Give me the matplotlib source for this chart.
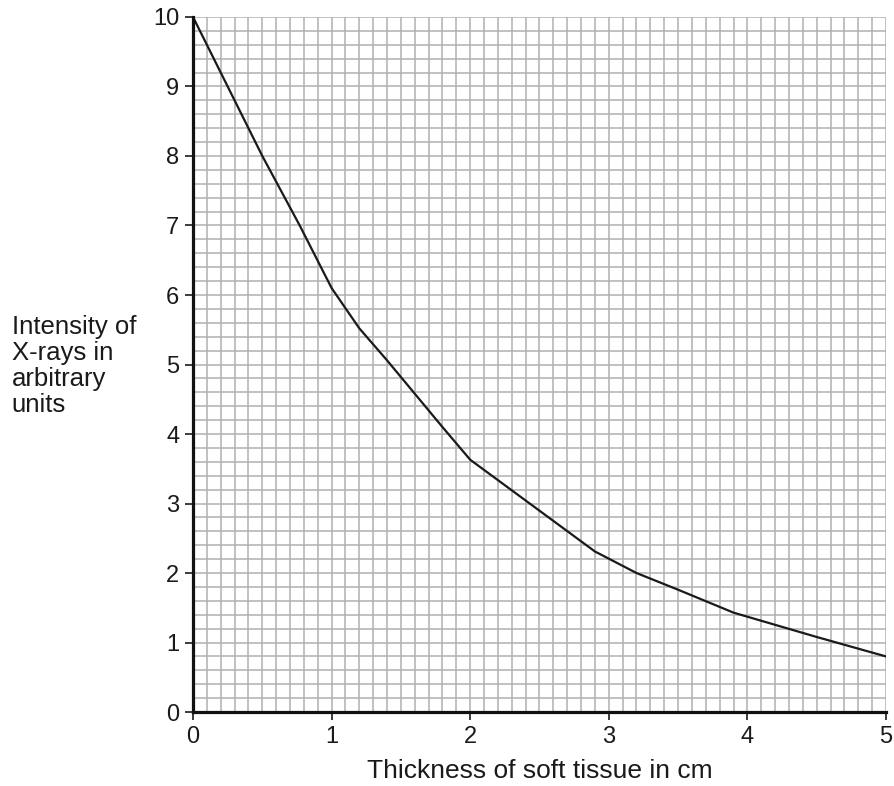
import matplotlib.pyplot as plt
import numpy as np

plt.rcParams['font.family'] = ['Liberation Sans', 'DejaVu Sans']

# values
thickness = [0, 0.25, 0.5, 0.77, 1.0, 1.2, 1.4, 1.6, 1.8, 2.0, 2.3, 2.6, 2.9, 3.2, 3.5, 3.9, 4.5, 5.0]
intensity = [10, 9.0, 8.0, 7.0, 6.1, 5.52, 5.06, 4.58, 4.10, 3.63, 3.19, 2.75, 2.31, 2.0, 1.76, 1.43, 1.08, 0.8]

x_ticks = [0, 1, 2, 3, 4, 5]
y_ticks = [0, 1, 2, 3, 4, 5, 6, 7, 8, 9, 10]

fig = plt.figure(figsize=(8.94, 7.86), dpi=100)
ax = fig.add_axes([0.2159, 0.0941, 0.7751, 0.8843])

ax.set_xlim(0, 5)
ax.set_ylim(0, 10)

# graph paper grid
for gx in np.arange(0, 5.001, 0.1):
    ax.axvline(gx, color='#b0b0b0', lw=1.1, zorder=1)
for gy in np.arange(0, 10.001, 0.2):
    ax.axhline(gy, color='#b0b0b0', lw=1.1, zorder=1)

ax.plot(thickness, intensity, color='#1a1a1a', lw=1.6, zorder=3)

ax.set_xticks(x_ticks)
ax.set_yticks(y_ticks)
ax.tick_params(axis='both', labelsize=17, colors='#1a1a1a', width=1.2, length=6, direction='out')
ax.tick_params(axis='x', pad=4)
ax.tick_params(axis='y', pad=4)

for s in ['top', 'right']:
    ax.spines[s].set_visible(False)
for s in ['left', 'bottom']:
    ax.spines[s].set_linewidth(2.3)
    ax.spines[s].set_color('#111111')
    ax.spines[s].set_zorder(4)

ax.set_xlabel("Thickness of soft tissue in cm", fontsize=19, color='#1a1a1a', labelpad=8)
fig.text(0.013, 0.534, "Intensity of\nX-rays in\narbitrary\nunits", fontsize=18.5,
         color='#1a1a1a', ha='left', va='center', linespacing=1.1)

plt.savefig("out.png", dpi=100)
